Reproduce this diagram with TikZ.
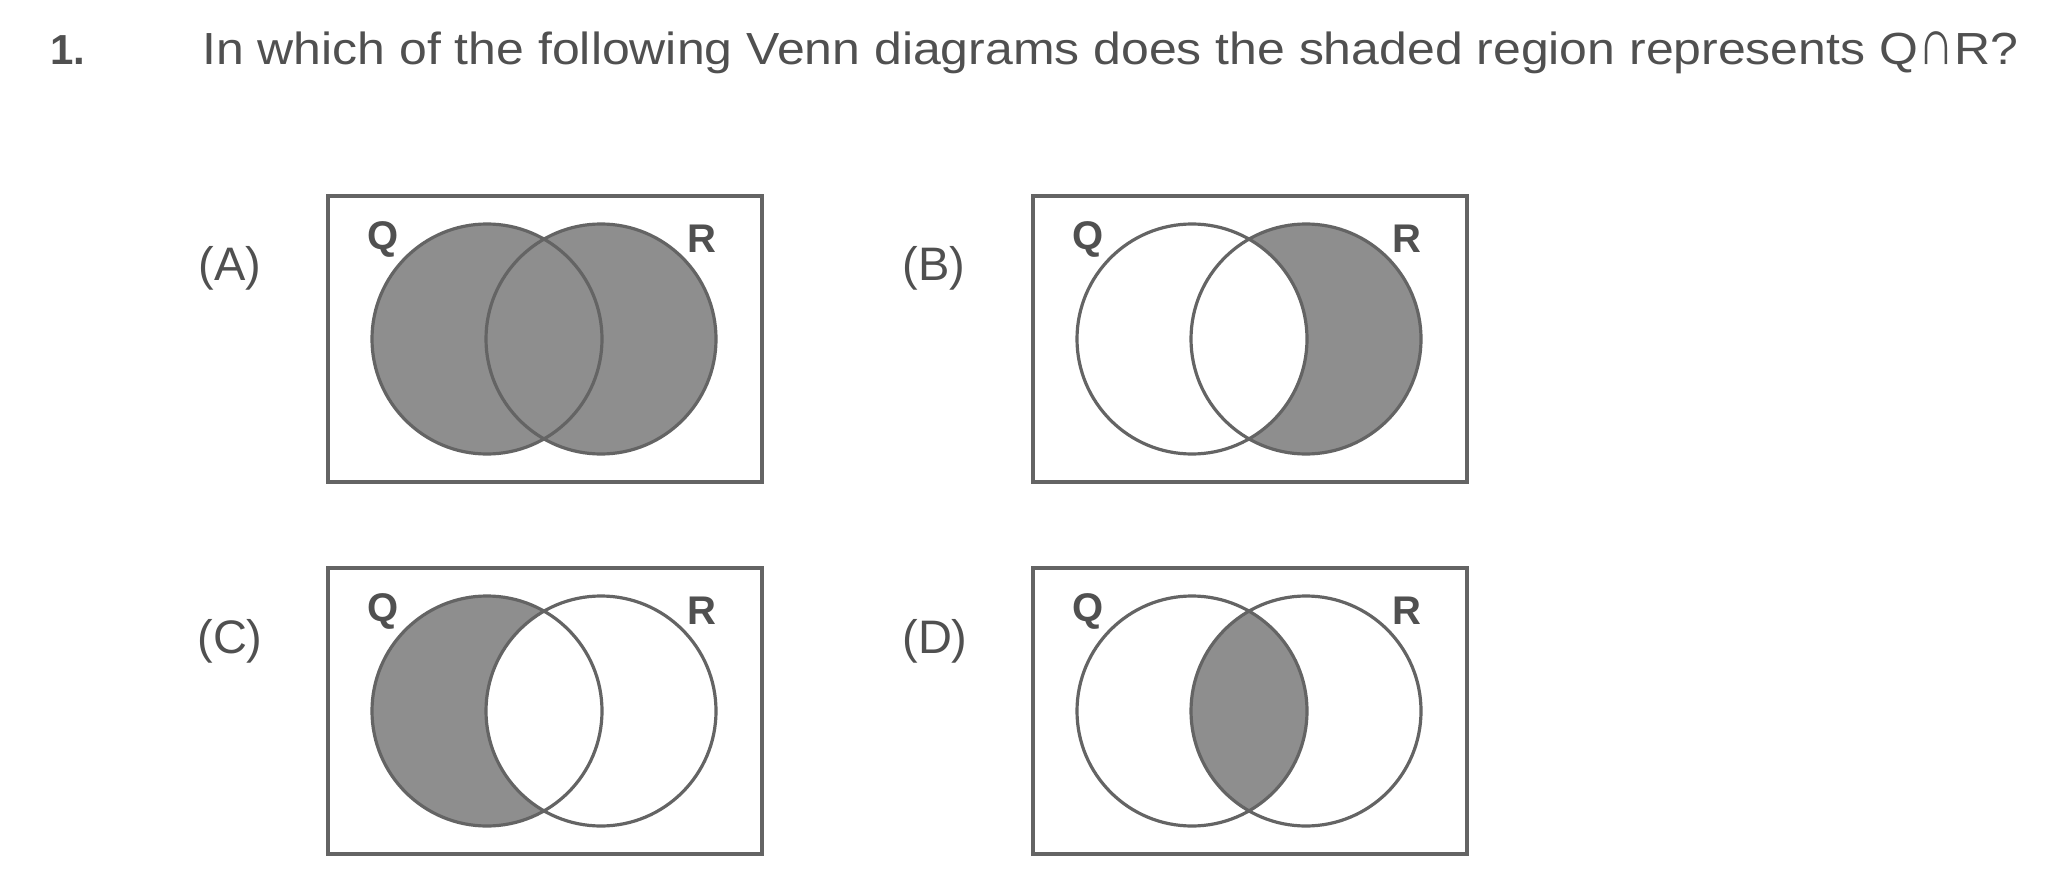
\documentclass[tikz,border=0pt]{standalone}
\usepackage{fontspec}
\setmainfont{Liberation Sans}
\newfontfamily\widefont[FakeStretch=1.11]{Liberation Sans}
\definecolor{fillg}{RGB}{142,142,142}
\definecolor{lineg}{RGB}{100,100,100}
\definecolor{txtg}{RGB}{80,80,80}
\tikzset{
  framebox/.style={draw=lineg,line width=1.6pt},
  ring/.style={draw=lineg,line width=1.6pt},
  shaded/.style={fill=fillg},
  setlab/.style={font=\bfseries\fontsize{20}{24}\selectfont,text=txtg,inner sep=0pt},
  optlab/.style={font=\fontsize{23.5}{28}\selectfont,text=txtg,inner sep=0pt},
  title/.style={font=\widefont\fontsize{22.5}{26}\selectfont,text=txtg,inner sep=0pt,anchor=base west}
}
\newcommand\vennframe[1]{%
  \coordinate (#1Q) at (159,143);
  \coordinate (#1R) at (273,143);
  \draw[framebox] (0,0) rectangle (434,286);
  \node[setlab] (#1ql) at (55,43) {Q};
  \node[setlab] (#1rl) at (374,43) {R};
}
\newcommand\vennrings[1]{%
  \draw[ring] (#1Q) circle (115);
  \draw[ring] (#1R) circle (115);
}
\begin{document}
\begin{tikzpicture}[x=0.5pt,y=-0.5pt]
\useasboundingbox[fill=white] (0,0) rectangle (2060,893);
\node[title,font=\bfseries\fontsize{21}{25}\selectfont] (num) at (50,65) {1.};
\node[title] (question) at (202,65) {In which of the following Venn diagrams does the shaded region represents Q\scalebox{1}[1.45]{∩}R?};
\node[optlab] (la) at (230,268) {(A)};
\node[optlab] (lb) at (934,268) {(B)};
\node[optlab] (lc) at (230,641) {(C)};
\node[optlab] (ld) at (935,641) {(D)};
% A: Q union R
\begin{scope}[shift={(328,196)}]
  \vennframe{a}
  \fill[shaded] (aQ) circle (115);
  \fill[shaded] (aR) circle (115);
  \vennrings{a}
\end{scope}
% B: R only
\begin{scope}[shift={(1033,196)}]
  \vennframe{b}
  \fill[shaded] (bR) circle (115);
  \fill[white] (bQ) circle (115);
  \vennrings{b}
\end{scope}
% C: Q only
\begin{scope}[shift={(328,568)}]
  \vennframe{c}
  \fill[shaded] (cQ) circle (115);
  \fill[white] (cR) circle (115);
  \vennrings{c}
\end{scope}
% D: Q intersect R
\begin{scope}[shift={(1033,568)}]
  \vennframe{d}
  \begin{scope}
    \clip (dQ) circle (115);
    \fill[shaded] (dR) circle (115);
  \end{scope}
  \vennrings{d}
\end{scope}
\end{tikzpicture}
\end{document}
